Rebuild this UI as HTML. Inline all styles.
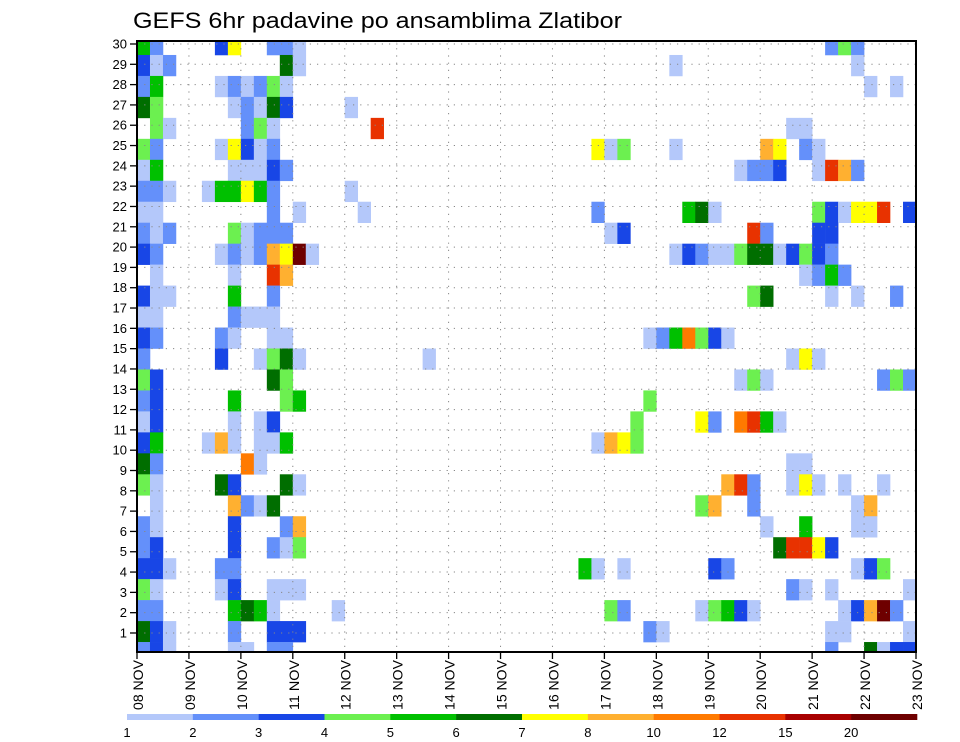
<!DOCTYPE html>
<html><head><meta charset="utf-8"><style>
html,body{margin:0;padding:0;background:#fff;}
svg{display:block;font-family:"Liberation Sans",sans-serif;}
</style></head><body>
<svg id="chart" width="960" height="742" viewBox="0 0 960 742" xmlns="http://www.w3.org/2000/svg">
<defs><clipPath id="plotclip"><rect x="137" y="41" width="779" height="611"/></clipPath></defs>
<text x="133" y="28" font-size="22" textLength="489" lengthAdjust="spacingAndGlyphs" fill="#000">GEFS 6hr padavine po ansamblima Zlatibor</text>
<g id="cells" clip-path="url(#plotclip)"></g>
<g id="grid"></g>
<g id="axes"></g>
<g id="cbar"></g>
</svg>
<script>
// ensemble member labels (top to bottom)
const memberLabels = [30,29,28,27,26,25,24,23,22,21,20,19,18,17,16,15,14,13,12,11,10,9,8,7,6,5,4,3,2,1];
// day tick labels
const dayLabels = ["08","09","10","11","12","13","14","15","16","17","18","19","20","21","22","23"];
// legend level labels
const levelLabels = ["1","2","3","4","5","6","7","8","10","12","15","20"];
// level colors (index 1..12)
const levelColors = ["#b4c8fa","#6490fa","#1846e6","#6cf050","#00c000","#006e00","#ffff00","#ffb030","#ff7a00","#e83200","#a80000","#6e0000"];
// precipitation class per member (rows) and 6h step (cols); '.' = none, 1-9,a,b,c = class
const gridA = [
"52....37..221.","312........61.","25....121241..","64.....12163..",".41.....241...","42....17312...",
"15.....11132..","221..155752...","11........2.1.","212....41222..","32....121287c1",".1.....1..a8..",
"311....5..2...","11.....2111...","32....21..11..","2.....3..1461.","43........64..","23.....5...45.",
"13.....1.13...","35...181.115..","62......91....","41....63...61.",".1.....8216...","21.....3...28.",
"23.....3..214.","331...22......","41....13..111.","22.....5651...","631....2..333.","231....11.22.."];
const gridB = [
"....................","....................","....................","..1.................","....a...............","....................",
"....................","..1.................","...1................","....................","....................","....................",
"....................","....................","....................","........1...........","....................","....................",
"....................","....................","....................","....................","....................","....................",
"....................","....................","....................",".1..................","....................","...................."];
const gridC = [
"...................242....",".......1.............1....","......................1.1.","..........................","................11........",".714...1......87.21.......",
"............1223..1a82....","..........................",".2......561.......43177a.3","..13.........a2...33......",".......1321146613432......",".................1252.....",
".............46....1.1..2.","..........................",".....1259431..............","................171.......","............141........242",".....4....................",
"....4....72.9a51..........",".1874.....................","................11........","...........8a2..171.1..1..",".........48..2.......18...","..............1..5...11...",
"...............6aa73......","51.1......32.........134..","................21.1.....1","..42.....14531......138c2.",".....21............11....1","...................2..6133"];

const NS="http://www.w3.org/2000/svg";
const X0=137,X1=916,Y0=41,Y1=652,NCOL=60,NROW=memberLabels.length;
const GY0=34,GY1=663;
const colW=(X1-X0)/NCOL, rowH=(GY1-GY0)/NROW;
const xCol=c=>X0+c*colW;
const yRow=r=>GY0+r*rowH;
const yLabel=k=>653.3-(k)*(589/29);
const xDay=d=>X0+d*(colW*4);
function mk(tag,attrs,parent){const e=document.createElementNS(NS,tag);for(const k in attrs)e.setAttribute(k,attrs[k]);parent.appendChild(e);return e;}
const cellsG=document.getElementById('cells');
for(let r=0;r<NROW;r++){
  const row=gridA[r]+gridB[r]+gridC[r];
  for(let c=0;c<NCOL&&c<row.length;c++){
    const ch=row[c]; if(ch==='.')continue;
    const lvl=parseInt(ch,16);
    const rc=mk('rect',{x:xCol(c).toFixed(2),y:yRow(r).toFixed(2),width:(colW+0.3).toFixed(2),height:(rowH+0.3).toFixed(2),fill:levelColors[lvl-1]},cellsG);
    
    
  }
}
const gridG=document.getElementById('grid');
for(let d=1;d<dayLabels.length-1;d++){
  const l=mk('line',{x1:xDay(d),x2:xDay(d),y1:Y0,y2:Y1,stroke:'#888','stroke-width':1,'stroke-dasharray':'1.2,6'},gridG);
  
  
}
for(let k=1;k<=30;k++){
  const y=yLabel(k);
  const l=mk('line',{x1:X0,x2:X1,y1:y,y2:y,stroke:'#888','stroke-width':1,'stroke-dasharray':'1.2,6'},gridG);
  
  
}
const ax=document.getElementById('axes');
const fr=mk('rect',{x:X0,y:Y0,width:X1-X0,height:Y1-Y0,fill:'none',stroke:'#000','stroke-width':2},ax);


for(let k=1;k<=30;k++){
  const y=yLabel(k);
  const t=mk('line',{x1:X0-7,x2:X0,y1:y,y2:y,stroke:'#000','stroke-width':1.3},ax);
  
  
  const tx=mk('text',{x:127,y:y+4.5,'font-size':13,'text-anchor':'end',fill:'#000'},ax);
  tx.textContent=String(k);
  
  
}
for(let d=0;d<dayLabels.length;d++){
  const x=xDay(d);
  const t=mk('line',{x1:x,x2:x,y1:Y1,y2:Y1+7,stroke:'#000','stroke-width':1.3},ax);
  
  
  const tx=mk('text',{transform:'translate('+(x+6)+',710) rotate(-90)','font-size':14,textLength:50,lengthAdjust:'spacingAndGlyphs',fill:'#000'},ax);
  tx.textContent=dayLabels[d]+' NOV';
  
  
}
const cb=document.getElementById('cbar');
const CB0=127,CB1=917,segW=(CB1-CB0)/levelColors.length;
for(let i=0;i<levelColors.length;i++){
  const s=mk('rect',{x:CB0+i*segW,y:714,width:segW+0.3,height:6,fill:levelColors[i]},cb);
  
  
  const tx=mk('text',{x:CB0+i*segW,y:737,'font-size':13,'text-anchor':'middle',fill:'#000'},cb);
  tx.textContent=levelLabels[i];
  
  
}
</script>
</body></html>
